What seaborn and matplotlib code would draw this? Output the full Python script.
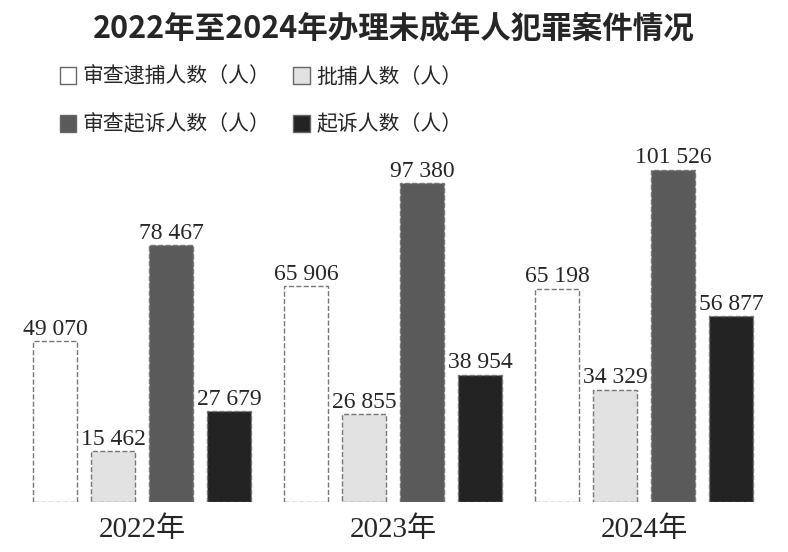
import pandas as pd
import seaborn as sns
import matplotlib.pyplot as plt
from matplotlib.patches import Patch

# Data
years = ['2022年', '2023年', '2024年']
series = ['审查逮捕人数（人）', '批捕人数（人）', '审查起诉人数（人）', '起诉人数（人）']
review_arrest = [49070, 65906, 65198]
approved_arrest = [15462, 26855, 34329]
review_prosecute = [78467, 97380, 101526]
prosecuted = [27679, 38954, 56877]

colors = ['#ffffff', '#e2e2e2', '#5a5a5a', '#232323']

rows = []
for name, vals in zip(series, [review_arrest, approved_arrest, review_prosecute, prosecuted]):
    for y, v in zip(years, vals):
        rows.append({'year': y, 'series': name, 'value': v})
df = pd.DataFrame(rows)

sns.set_theme(style='white')
plt.rcParams['font.family'] = ['Noto Sans CJK SC', 'DejaVu Sans']

fig = plt.figure(figsize=(7.88, 5.52), dpi=100)
ax = fig.add_axes([0.021, 0.0906, 0.956, 0.652])

sns.barplot(data=df, x='year', y='value', hue='series', order=years, hue_order=series,
            palette=colors, width=0.924, gap=0.24, edgecolor='#777777',
            linewidth=1, linestyle='--', legend=False, ax=ax)

for cont in ax.containers:
    labels = [f'{int(b.get_height()):,}'.replace(',', ' ') for b in cont]
    ax.bar_label(cont, labels=labels, padding=1, fontsize=17,
                 family=['Liberation Serif', 'Noto Sans CJK SC'])

ax.set_xlim(-0.5, 2.5)
ax.set_ylim(0, 110000)
ax.set_xlabel('')
ax.set_ylabel('')
ax.set_yticks([])
ax.tick_params(axis='x', length=0, pad=10)
for lab in ax.get_xticklabels():
    lab.set_fontsize(21)
    lab.set_family(['Liberation Serif', 'Noto Sans CJK SC'])
sns.despine(ax=ax, left=True, bottom=True)

fig.suptitle('2022年至2024年办理未成年人犯罪案件情况', fontsize=22,
             fontweight='bold', y=0.946, va='center')

handles = [Patch(facecolor=c, edgecolor='#666666', linewidth=1) for c in colors]
order = [0, 2, 1, 3]
fig.legend([handles[i] for i in order], [series[i] for i in order],
           loc='upper left', bbox_to_anchor=(0.052, 0.915), ncol=2, frameon=False,
           fontsize=15, handlelength=0.8, handleheight=0.9, handletextpad=0.3,
           columnspacing=1.1, labelspacing=1.25)

plt.savefig('out.png', dpi=100)
